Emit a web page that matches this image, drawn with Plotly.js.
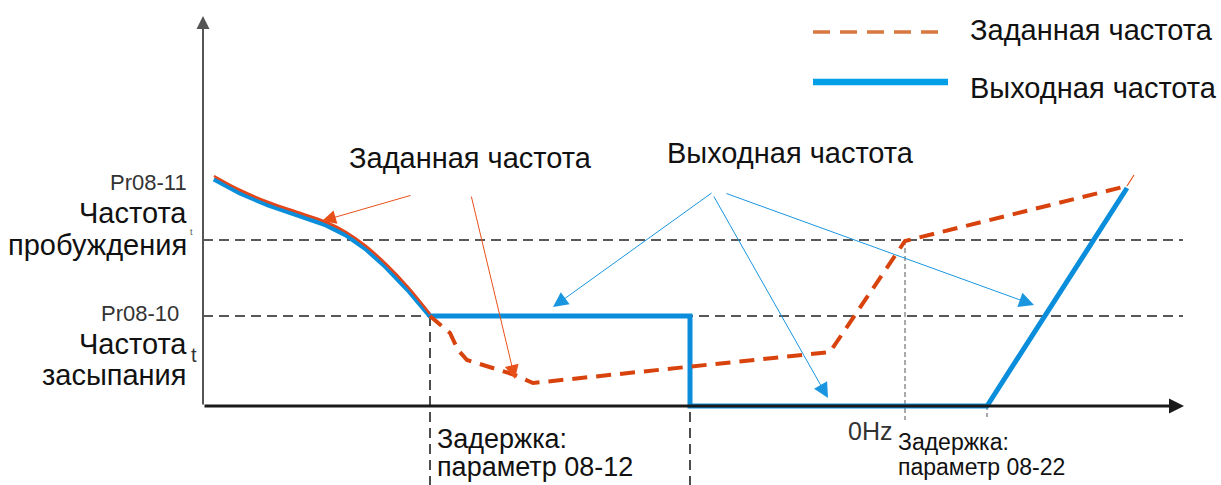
<!DOCTYPE html>
<html><head><meta charset="utf-8">
<script src="https://cdn.plot.ly/plotly-3.0.1.min.js"></script>
<style>html,body{margin:0;padding:0;background:#fff}#c{width:1221px;height:485px}</style>
</head><body><div id="c"></div>
<script>
// Diagram coordinates: time (x) and frequency (y, drawn downward as in the picture's pixel grid)
const outX = [214, 240, 268, 297, 326, 346, 366, 386, 408, 430, 690, 690, 987, 1127];
const outY = [179, 193, 205, 215, 225, 235, 249, 267, 290, 316, 316, 406, 406, 188];
const setSolidX = [214, 240, 268, 297, 326, 346, 366, 386, 408, 430];
const setSolidY = [176, 190, 202, 212, 222, 232, 246, 264, 287, 314];
const setDashX = [430, 450, 458, 467, 515, 533, 830, 905, 1127];
const setDashY = [316, 333, 350, 360, 375, 383, 352, 241, 186];
const setTailX = [1127, 1134];
const setTailY = [186, 175];
const wakeLevel = 240;
const sleepLevel = 316;
const zeroLevel = 406;
const legendNames = ["Заданная частота", "Выходная частота"];
const FONT = "Liberation Sans, Arial, sans-serif";

const RED = "#d8430d", BLUE = "#0a8edb";
const traces = [
  {x: outX, y: outY, mode: "lines", line: {color: BLUE, width: 5}, hoverinfo: "skip"},
  {x: setSolidX, y: setSolidY, mode: "lines", line: {color: "#e2461a", width: 2.5, shape: "spline"}, hoverinfo: "skip"},
  {x: setDashX, y: setDashY, mode: "lines", line: {color: RED, width: 4, dash: "15px,9px"}, hoverinfo: "skip"},
  {x: setTailX, y: setTailY, mode: "lines", line: {color: "#e8501a", width: 1.2}, hoverinfo: "skip"}
];

const dashBlack = {color: "#222", width: 1.6, dash: "10px,6px"};
const shapes = [
  {type: "line", x0: 203, x1: 1183, y0: wakeLevel, y1: wakeLevel, line: dashBlack, layer: "below"},
  {type: "line", x0: 203, x1: 1183, y0: sleepLevel, y1: sleepLevel, line: dashBlack, layer: "below"},
  {type: "line", x0: 430, x1: 430, y0: sleepLevel, y1: 485, line: dashBlack, layer: "below"},
  {type: "line", x0: 690, x1: 690, y0: sleepLevel, y1: 485, line: dashBlack, layer: "below"},
  {type: "line", x0: 905, x1: 905, y0: wakeLevel, y1: 420, line: {color: "#555", width: 1, dash: "5px,3px"}, layer: "below"},
  {type: "line", x0: 987, x1: 987, y0: zeroLevel, y1: 417, line: {color: "#555", width: 1, dash: "4px,3px"}, layer: "below"},
  // legend samples
  {type: "line", x0: 813, x1: 940, y0: 32, y1: 32, line: {color: "#d6783f", width: 3.5, dash: "17px,10px"}},
  {type: "line", x0: 813, x1: 948, y0: 82, y1: 82, line: {color: "#009fe8", width: 6.5}}
];

function arrow(x, y, ax, ay, color, w, size, head) {
  return {x: x, y: y, ax: ax, ay: ay, xref: "x", yref: "y", axref: "x", ayref: "y",
    showarrow: true, arrowhead: head || 2, arrowsize: size, arrowwidth: w, arrowcolor: color, text: ""};
}
function txt(x, y, s, size, xa, color, ya) {
  return {x: x, y: y, xref: "x", yref: "y", text: s, showarrow: false, xanchor: xa || "left",
    yanchor: ya || "middle", font: {family: FONT, size: size, color: color || "#111"}};
}

const annotations = [
  // axes
  arrow(203, 16, 203, zeroLevel, "#555", 2, 1.3, 2),
  arrow(1184, zeroLevel, 203, zeroLevel, "#1a1a1a", 3, 1.0, 2),
  // pointer arrows
  arrow(322, 221, 412, 195, "#e8501a", 1, 2.8, 2),
  arrow(515, 379, 471, 195, "#e8501a", 1, 2.8, 2),
  arrow(553, 307, 713, 192, "#1a96e0", 1, 3, 2),
  arrow(828, 398, 713, 195, "#1a96e0", 1, 3, 2),
  arrow(1034, 305, 725, 193, "#1a96e0", 1, 3, 2),
  // legend texts
  txt(968, 30, legendNames[0], 29),
  txt(968, 88, legendNames[1], 29),
  // main labels
  txt(470, 158, "Заданная частота", 29, "center"),
  txt(790, 153, "Выходная частота", 29, "center"),
  // left labels
  txt(189, 182, "Pr08-11", 22, "right", "#333"),
  txt(189, 213, "Частота", 29, "right"),
  txt(189, 245, "пробуждения", 29, "right"),
  txt(191, 232, "t", 9, "center", "#555"),
  txt(181, 313, "Pr08-10", 22, "right", "#333"),
  txt(189, 344, "Частота", 29, "right"),
  txt(189, 375, "засыпания", 29, "right"),
  txt(194, 355, "t", 20, "center", "#333"),
  // bottom labels
  txt(435, 439, "Задержка:", 27),
  txt(435, 467, "параметр 08-12", 27),
  txt(894, 431, "0Hz", 25, "right", "#333"),
  txt(896, 442, "Задержка:", 23),
  txt(896, 467, "параметр 08-22", 23)
];

const layout = {
  width: 1221, height: 485, margin: {l: 0, r: 0, t: 0, b: 0},
  paper_bgcolor: "#fff", plot_bgcolor: "#fff", showlegend: false,
  xaxis: {range: [0, 1221], visible: false, fixedrange: true},
  yaxis: {range: [485, 0], visible: false, fixedrange: true},
  shapes: shapes, annotations: annotations
};
Plotly.newPlot("c", traces, layout, {staticPlot: true});
</script></body></html>
